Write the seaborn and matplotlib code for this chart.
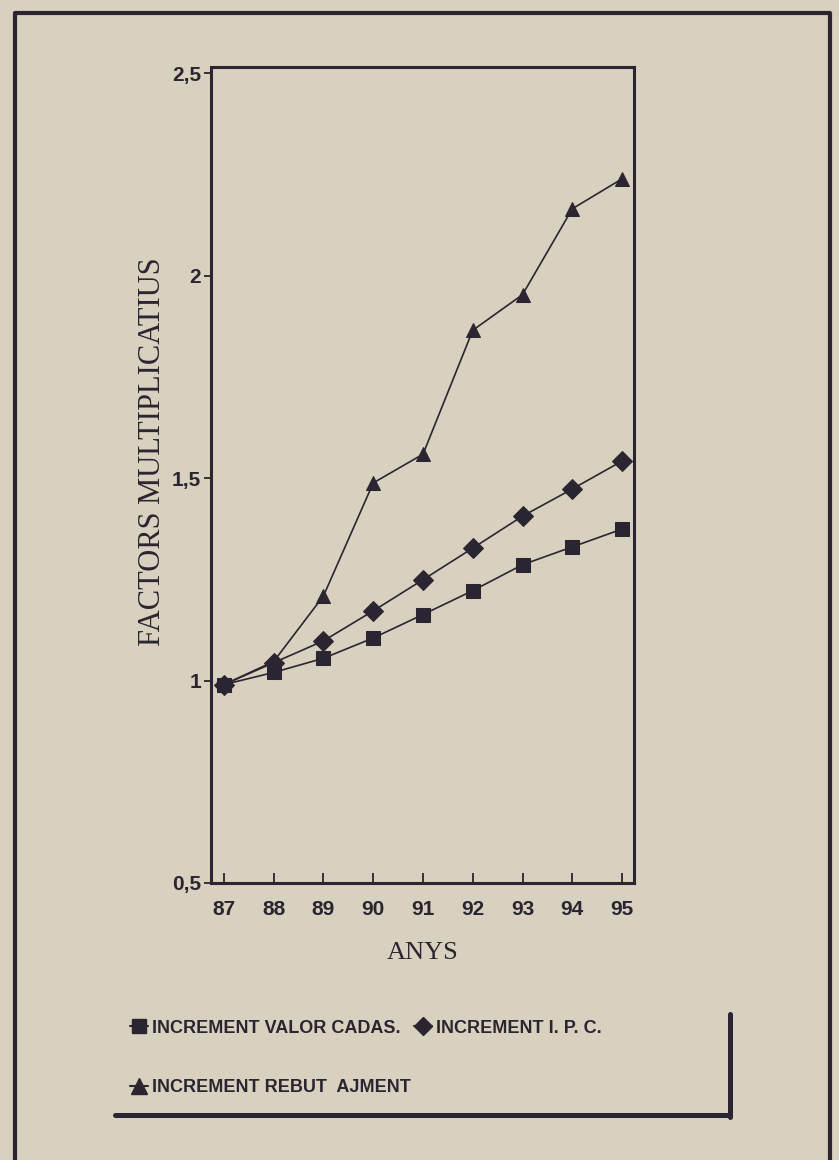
import pandas as pd
import matplotlib
matplotlib.use("Agg")
import matplotlib.pyplot as plt
from matplotlib.lines import Line2D
import seaborn as sns

# values
anys = [87, 88, 89, 90, 91, 92, 93, 94, 95]
valor_cadas = [0.99, 1.02, 1.055, 1.105, 1.163, 1.222, 1.286, 1.33, 1.374]
ipc = [0.99, 1.044, 1.098, 1.172, 1.249, 1.327, 1.406, 1.473, 1.542]
rebut = [0.99, 1.047, 1.209, 1.488, 1.559, 1.865, 1.953, 2.165, 2.239]

series_names = ["INCREMENT VALOR CADAS.", "INCREMENT I. P. C.", "INCREMENT REBUT  AJMENT"]
ytick_vals = [0.5, 1, 1.5, 2, 2.5]
ytick_labels = ["0,5", "1", "1,5", "2", "2,5"]

df = pd.DataFrame({
    "any": anys * 3,
    "factor": valor_cadas + ipc + rebut,
    "serie": [series_names[0]] * 9 + [series_names[1]] * 9 + [series_names[2]] * 9,
})

paper = "#d8d1bf"
ink = "#2a2530"

sns.set_style("ticks")
plt.rcParams["font.family"] = ["Liberation Sans", "DejaVu Sans"]

fig = plt.figure(figsize=(8.39, 11.6), dpi=100, facecolor=paper)
ax = fig.add_axes([0.2515, 0.2388, 0.5042, 0.7034])
ax.set_facecolor(paper)

markers = {series_names[0]: "s", series_names[1]: "D", series_names[2]: "^"}

sns.lineplot(
    data=df, x="any", y="factor", style="serie", markers=markers, dashes=False,
    color=ink, linewidth=1.2, markersize=10, markeredgecolor=ink, ax=ax, legend=False,
)
for line in ax.lines:
    line.set_color(ink)
    line.set_markerfacecolor(ink)

ax.set_xlim(86.74, 95.24)
ax.set_ylim(0.5, 2.515)
ax.set_xticks(anys)
ax.set_xticklabels([str(a) for a in anys], fontsize=15, fontweight="bold", color=ink)
ax.set_yticks(ytick_vals)
ax.set_yticklabels(ytick_labels, fontsize=15, fontweight="bold", color=ink)
ax.tick_params(axis="x", direction="in", length=7, width=1.3, color=ink, pad=12)
ax.tick_params(axis="y", direction="out", length=5, width=1.3, color=ink, pad=2)
for side in ["left", "bottom", "top", "right"]:
    ax.spines[side].set_visible(True)
    ax.spines[side].set_color(ink)
    ax.spines[side].set_linewidth(2.2)

ax.set_xlabel("ANYS", fontsize=19, family=["Liberation Serif", "DejaVu Serif"], color=ink, labelpad=17)
ax.set_ylabel("FACTORS MULTIPLICATIUS", fontsize=22, family=["Liberation Serif", "DejaVu Serif"],
              color=ink)
ax.yaxis.set_label_coords(-0.104, 0.529)

# legend: row 1 square + diamond, row 2 triangle
handles = [
    Line2D([0], [0], color=ink, lw=1.5, marker="s", markersize=10, markerfacecolor=ink),
    Line2D([0], [0], color=ink, lw=1.5, marker="^", markersize=11, markerfacecolor=ink),
    Line2D([0], [0], color=ink, lw=1.5, marker="D", markersize=9, markerfacecolor=ink),
]
labels = [series_names[0], series_names[2], series_names[1]]
leg = fig.legend(handles, labels, loc="upper left", bbox_to_anchor=(0.155, 0.121), ncol=2,
                 frameon=False, handlelength=1.0, handletextpad=0.2, columnspacing=0.2,
                 labelspacing=2.35, borderpad=0, borderaxespad=0,
                 prop={"weight": "bold", "size": 13})
for t in leg.get_texts():
    t.set_color(ink)

# legend box lines (right and bottom) and the outer frame of the clipping
fig.add_artist(Line2D([0.870, 0.870], [0.126, 0.037], transform=fig.transFigure, color=ink, lw=3.6))
fig.add_artist(Line2D([0.137, 0.870], [0.0388, 0.0388], transform=fig.transFigure, color=ink, lw=3.6))
fig.add_artist(Line2D([0.018, 0.018, 0.989, 0.989], [0.0, 0.989, 0.989, 0.0],
                      transform=fig.transFigure, color=ink, lw=3))

fig.savefig("out.png", dpi=100, facecolor=paper)
